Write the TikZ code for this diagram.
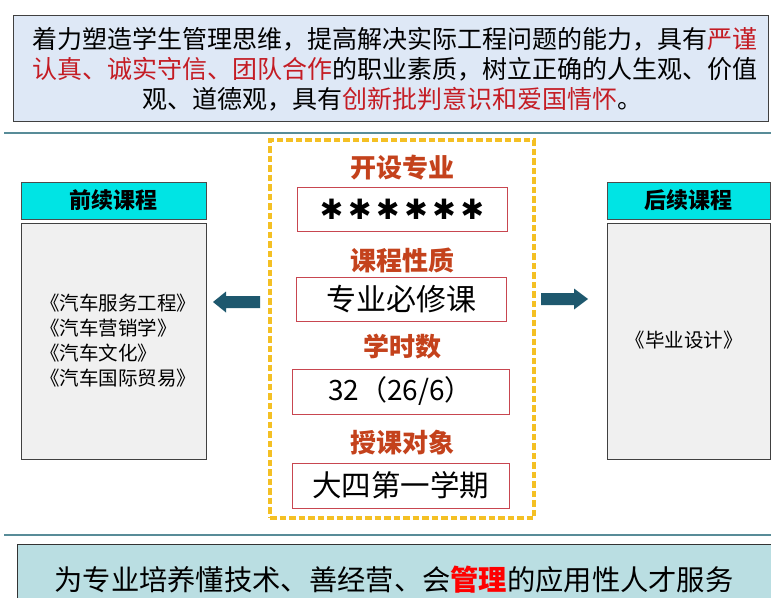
\documentclass[tikz,border=0pt]{standalone}
\usepackage{fontspec}
\setmainfont{Noto Sans CJK SC}
\newfontfamily\symfont{DejaVu Sans}
\usetikzlibrary{positioning}
\definecolor{topfill}{RGB}{222,232,246}
\definecolor{botfill}{RGB}{186,222,226}
\definecolor{darkred}{RGB}{196,28,36}
\definecolor{labelred}{RGB}{196,66,28}
\definecolor{boxred}{RGB}{200,70,80}
\definecolor{gold}{RGB}{244,192,36}
\definecolor{cyanhead}{RGB}{0,228,228}
\definecolor{bodyfill}{RGB}{240,240,240}
\definecolor{arrowteal}{RGB}{30,88,110}
\definecolor{lineteal}{RGB}{88,140,152}
\newcommand{\fsz}[2]{\fontsize{#1}{#2}\selectfont}
\begin{document}
\begin{tikzpicture}[x=1pt,y=-1pt,
  redbox/.style={draw=boxred,line width=1pt,fill=white,inner sep=0pt},
  catlabel/.style={text=labelred,font=\fsz{26}{30}\bfseries,inner sep=0pt},
  headbox/.style={draw=black!70,line width=0.8pt,fill=cyanhead,inner sep=0pt,font=\fsz{22}{26}\bfseries},
  bodybox/.style={draw=black!75,line width=0.9pt,fill=bodyfill,inner sep=0pt},
  sepline/.style={draw=lineteal,line width=1.6pt},
  blockarrow/.style={fill=arrowteal,draw=none}
]
\useasboundingbox (0,0) rectangle (771,597);
\fill[white] (0,0) rectangle (771,597);

% top box
\draw[draw=black!75,line width=1pt,fill=topfill] (13,15) rectangle (768,121);
\node[inner sep=0pt,font=\fsz{25}{30}] (t1) at (395,39) {着力塑造学生管理思维，提高解决实际工程问题的能力，具有\textcolor{darkred}{严谨}};
\node[inner sep=0pt,font=\fsz{25}{30}] (t2) at (395,69) {\textcolor{darkred}{认真、诚实守信、团队合作}的职业素质，树立正确的人生观、价值};
\node[inner sep=0pt,font=\fsz{25}{30}] (t3) at (392,99) {观、道德观，具有\textcolor{darkred}{创新批判意识和爱国情怀}。};

% separator lines
\coordinate (l1a) at (4,133); \coordinate (l1b) at (771,133);
\draw[sepline] (l1a) -- (l1b);
\coordinate (l2a) at (4,535); \coordinate (l2b) at (771,535);
\draw[sepline] (l2a) -- (l2b);

% central dashed frame
\node[draw=gold,line width=3.4pt,dash pattern=on 6.5pt off 3pt,minimum width=264,minimum height=378,inner sep=0pt] (frame) at (402,329) {};

\node[catlabel] (lab1) at (402,168) {开设专业};
\node[redbox,minimum width=210,minimum height=44] (box1) at (402,209) {\symfont\bfseries\fsz{28}{30}✱\,✱\,✱\,✱\,✱\,✱};
\node[catlabel] (lab2) at (402,260) {课程性质};
\node[redbox,minimum width=210,minimum height=44,font=\fsz{30}{34}] (box2) at (401,299) {专业必修课};
\node[catlabel] (lab3) at (402,347) {学时数};
\node[redbox,minimum width=217,minimum height=45,font=\fsz{28}{32}] (box3) at (400.5,391.5) {32（26/6）\hspace{14pt}};
\node[catlabel] (lab4) at (402,443) {授课对象};
\node[redbox,minimum width=217,minimum height=45,font=\fsz{29.5}{34}] (box4) at (400.5,485.5) {大四第一学期};

% left course column
\node[headbox,minimum width=185,minimum height=37] (lhead) at (113.5,200.5) {前续课程};
\node[bodybox,minimum width=185,minimum height=236] (lbody) at (113.5,341) {};
\node[inner sep=0pt,anchor=west,align=left,font=\fsz{19.5}{25}] (ltext) at (40,340.5) {《汽车服务工程》\\《汽车营销学》\\《汽车文化》\\《汽车国际贸易》};

% right course column
\node[headbox,minimum width=163,minimum height=37] (rhead) at (688.5,200.5) {后续课程};
\node[bodybox,minimum width=163,minimum height=236] (rbody) at (688.5,341) {};
\node[inner sep=0pt,font=\fsz{19.5}{25}] (rtext) at (684,340) {《毕业设计》};

% block arrows
\coordinate (la) at (213,302);
\fill[blockarrow] (la) -- ++(13,-10.5) -- ++(0,4.5) -- ++(34,0) -- ++(0,12) -- ++(-34,0) -- ++(0,4.5) -- cycle;
\coordinate (ra) at (588,299);
\fill[blockarrow] (ra) -- ++(-14,-10.5) -- ++(0,4.5) -- ++(-33,0) -- ++(0,12) -- ++(33,0) -- ++(0,4.5) -- cycle;

% bottom box
\draw[draw=black!80,line width=1pt,fill=botfill] (17,544) rectangle (780,605);
\node[inner sep=0pt,font=\fsz{28.3}{32}] (bt) at (394,580) {为专业培养懂技术、善经营、会\textcolor{red}{\bfseries 管理}的应用性人才服务};
\end{tikzpicture}
\end{document}
